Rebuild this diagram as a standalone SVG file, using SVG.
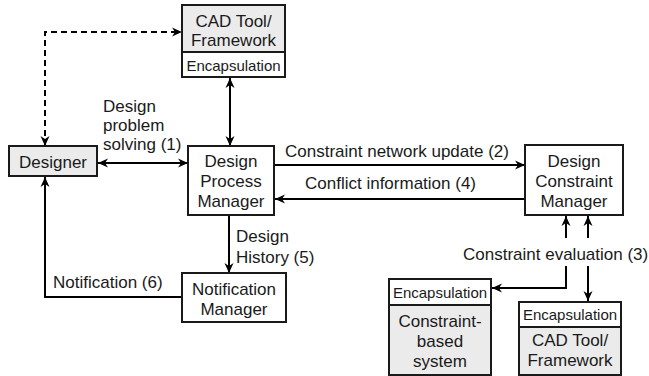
<svg xmlns="http://www.w3.org/2000/svg" width="649" height="376" viewBox="0 0 649 376">
<style>
text{font-family:"Liberation Sans",Arial,sans-serif;font-size:17px;fill:#1a1a1a}
.sm{font-size:15px}
.c{text-anchor:middle}
.box{fill:#fff;stroke:#1a1a1a;stroke-width:2}
.gray{fill:#ebebeb;stroke:#1a1a1a;stroke-width:2}
.ln{fill:none;stroke:#000;stroke-width:2}
.dash{stroke-dasharray:6 4}
</style>
<defs>
<marker id="ah" viewBox="0 0 10 10" refX="10" refY="5" markerWidth="10" markerHeight="10" markerUnits="userSpaceOnUse" orient="auto-start-reverse">
<path d="M0,0.5 L10,5 L0,9.5 L3,5 z" fill="#000"/>
</marker>
</defs>
<g id="connectors">
<path class="ln dash" d="M45,146 V32 H182" marker-start="url(#ah)" marker-end="url(#ah)"/>
<path class="ln" d="M98,163 H188" marker-start="url(#ah)" marker-end="url(#ah)"/>
<path class="ln" d="M230,78 V146" marker-start="url(#ah)" marker-end="url(#ah)"/>
<path class="ln" d="M274,165 H525" marker-end="url(#ah)"/>
<path class="ln" d="M525,199 H275" marker-end="url(#ah)"/>
<path class="ln" d="M229,215 V273" marker-end="url(#ah)"/>
<path class="ln" d="M182,297 H45 V177" marker-end="url(#ah)"/>
<path class="ln" d="M566,238 V216" marker-end="url(#ah)"/>
<path class="ln" d="M588,238 V216" marker-end="url(#ah)"/>
<path class="ln" d="M566,266 V288 H492" marker-end="url(#ah)"/>
<path class="ln" d="M588,266 V301" marker-end="url(#ah)"/>
<text x="103" y="112">Design</text>
<text x="103" y="131">problem</text>
<text x="103" y="150">solving (1)</text>
<text x="285" y="157">Constraint network update (2)</text>
<text x="305" y="189">Conflict information (4)</text>
<text x="236" y="242">Design</text>
<text x="236" y="263">History (5)</text>
<text x="53" y="288">Notification (6)</text>
<text x="463" y="260">Constraint evaluation (3)</text>
</g>
<g id="cad-top">
<rect class="gray" x="182" y="5" width="103" height="47"/>
<rect class="box" x="182" y="52" width="103" height="25"/>
<text class="c" x="233.5" y="27">CAD Tool/</text>
<text class="c" x="233.5" y="46">Framework</text>
<text class="c sm" x="233.5" y="71">Encapsulation</text>
</g>
<g id="designer">
<rect class="gray" x="9" y="146" width="88" height="30"/>
<text class="c" x="53" y="168">Designer</text>
</g>
<g id="dpm">
<rect class="box" x="188" y="146" width="86" height="69"/>
<text class="c" x="231" y="167">Design</text>
<text class="c" x="231" y="187">Process</text>
<text class="c" x="231" y="207">Manager</text>
</g>
<g id="dcm">
<rect class="box" x="525" y="145" width="98" height="70"/>
<text class="c" x="574" y="167">Design</text>
<text class="c" x="574" y="187">Constraint</text>
<text class="c" x="574" y="207">Manager</text>
</g>
<g id="notification-manager">
<rect class="box" x="182" y="273" width="104" height="49"/>
<text class="c" x="234" y="295">Notification</text>
<text class="c" x="234" y="315">Manager</text>
</g>
<g id="constraint-system">
<rect class="box" x="389" y="279" width="102" height="26"/>
<rect class="gray" x="389" y="305" width="102" height="70"/>
<text class="c sm" x="440" y="298">Encapsulation</text>
<text class="c" x="440" y="327">Constraint-</text>
<text class="c" x="440" y="347">based</text>
<text class="c" x="440" y="367">system</text>
</g>
<g id="cad-bottom">
<rect class="box" x="519" y="302" width="102" height="25"/>
<rect class="gray" x="519" y="327" width="102" height="48"/>
<text class="c sm" x="570" y="320">Encapsulation</text>
<text class="c" x="570" y="346">CAD Tool/</text>
<text class="c" x="570" y="366">Framework</text>
</g>
</svg>
